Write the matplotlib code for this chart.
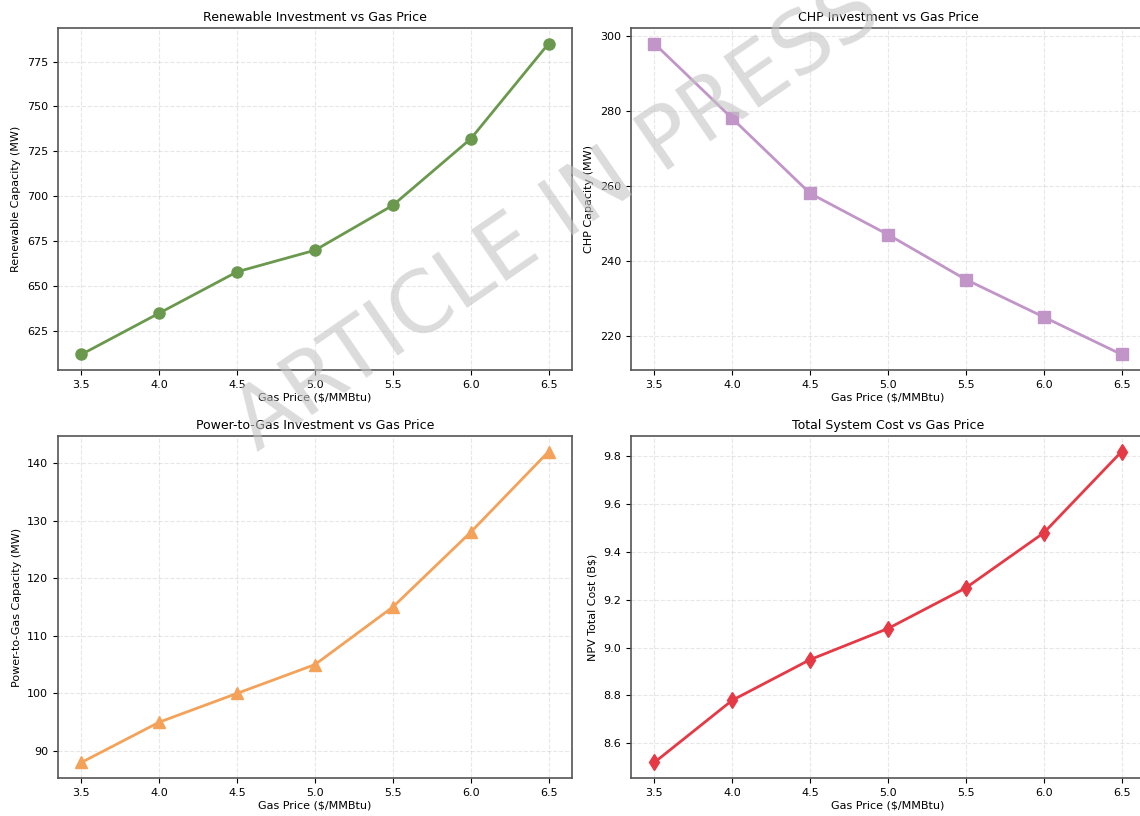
import numpy as np
import matplotlib.pyplot as plt

# Datos
gas_price = [3.5, 4.0, 4.5, 5.0, 5.5, 6.0, 6.5]
renewable_mw = [612, 635, 658, 670, 695, 732, 785]
chp_mw = [298, 278, 258, 247, 235, 225, 215]
p2g_mw = [88, 95, 100, 105, 115, 128, 142]
npv_cost = [8.52, 8.78, 8.95, 9.08, 9.25, 9.48, 9.82]

W, H = 1140, 816
fig = plt.figure(figsize=(W / 100, H / 100), dpi=100)


def px_axes(l, t, r, b):
    return fig.add_axes([l / W, 1 - b / H, (r - l) / W, (b - t) / H])


ax1 = px_axes(58, 28, 572, 370)
ax2 = px_axes(631, 28, 1145, 370)
ax3 = px_axes(58, 436, 572, 778)
ax4 = px_axes(631, 436, 1145, 778)

paneles = [
    (ax1, renewable_mw, '#6a994e', 'o', 'Renewable Investment vs Gas Price', 'Renewable Capacity (MW)'),
    (ax2, chp_mw, '#c195c8', 's', 'CHP Investment vs Gas Price', 'CHP Capacity (MW)'),
    (ax3, p2g_mw, '#f4a259', '^', 'Power-to-Gas Investment vs Gas Price', 'Power-to-Gas Capacity (MW)'),
    (ax4, npv_cost, '#e63946', 'd', 'Total System Cost vs Gas Price', 'NPV Total Cost (B$)'),
]

for ax, valores, color, marcador, titulo, etiqueta in paneles:
    ax.plot(gas_price, valores, color=color, marker=marcador, linewidth=2, markersize=8)
    ax.set_title(titulo, fontsize=9, pad=5)
    ax.set_xlabel('Gas Price ($/MMBtu)', fontsize=8, labelpad=2)
    ax.set_ylabel(etiqueta, fontsize=8)
    ax.tick_params(labelsize=8)
    ax.set_xticks(gas_price)
    ax.grid(True, linestyle='--', alpha=0.3)
    for s in ax.spines.values():
        s.set_color('#555555')
        s.set_linewidth(1.2)

ax1.set_yticks([625, 650, 675, 700, 725, 750, 775])
ax2.set_yticks([220, 240, 260, 280, 300])
ax3.set_yticks([90, 100, 110, 120, 130, 140])
ax4.set_yticks([8.6, 8.8, 9.0, 9.2, 9.4, 9.6, 9.8])

# Marca de agua
fig.text(0.4895, 0.734, 'ARTICLE IN PRESS', fontsize=61, color='#c4c4c4', alpha=0.6,
         rotation=34.5, ha='center', va='center', zorder=10)

fig.savefig('out.png', dpi=100)
